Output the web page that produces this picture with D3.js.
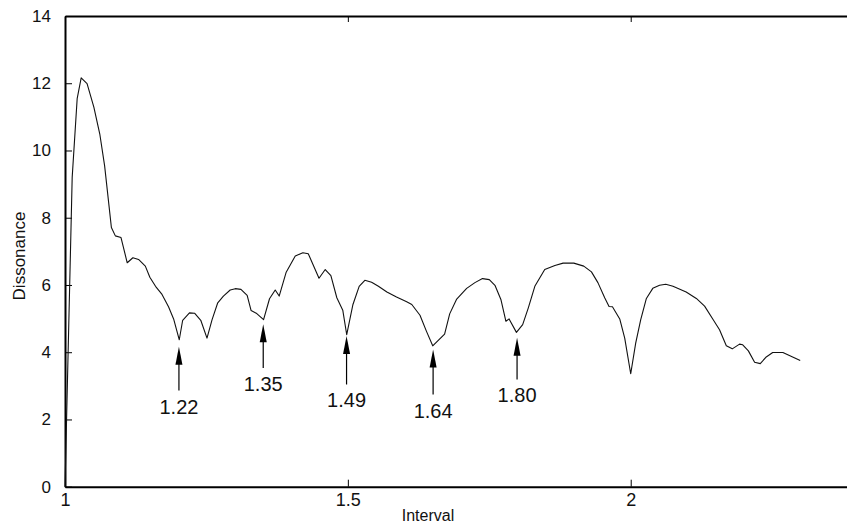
<!DOCTYPE html>
<html>
<head>
<meta charset="UTF-8">
<title>Dissonance curve</title>
<script src="https://cdn.jsdelivr.net/npm/d3@7/dist/d3.min.js"></script>
<style>
  body { margin: 0; background: #fff; }
  text { font-family: "Liberation Sans", Arial, Helvetica, sans-serif; fill: #111; }
</style>
</head>
<body>
<script>

    // Intervall-Werte (x) und Dissonanz-Werte (y) der Kurve
    let intervals = [1.000, 1.0127, 1.0215, 1.0286, 1.039, 1.051, 1.0615, 1.070, 1.082, 1.089,
        1.099, 1.110, 1.120, 1.130, 1.142, 1.150, 1.160, 1.1715, 1.183, 1.192,
        1.202, 1.208, 1.220, 1.229, 1.240, 1.251, 1.260, 1.270, 1.280, 1.292,
        1.301, 1.311, 1.322, 1.329, 1.339, 1.351, 1.3615, 1.3716, 1.3786, 1.391,
        1.407, 1.4205, 1.430, 1.449, 1.460, 1.470, 1.4805, 1.491, 1.498, 1.509,
        1.520, 1.530, 1.542, 1.554, 1.569, 1.586, 1.604, 1.613, 1.6275, 1.639,
        1.650, 1.671, 1.680, 1.692, 1.710, 1.7246, 1.738, 1.750, 1.760, 1.7705,
        1.7794, 1.785, 1.798, 1.809, 1.819, 1.8305, 1.848, 1.866, 1.8805, 1.8994,
        1.917, 1.9306, 1.942, 1.954, 1.9617, 1.9677, 1.9806, 1.9894, 2.000, 2.0088,
        2.0177, 2.0277, 2.039, 2.051, 2.062, 2.0747, 2.098, 2.116, 2.1306, 2.145,
        2.157, 2.169, 2.1795, 2.1924, 2.198, 2.208, 2.219, 2.229, 2.2396, 2.251,
        2.269, 2.2996];

    let dissonance = [0, 9.2, 11.54, 12.16, 11.99, 11.29, 10.49, 9.55, 7.71, 7.46,
        7.41, 6.66, 6.81, 6.76, 6.56, 6.23, 5.96, 5.72, 5.35, 4.99,
        4.37, 4.95, 5.17, 5.16, 4.95, 4.42, 4.97, 5.47, 5.67, 5.85,
        5.89, 5.87, 5.69, 5.24, 5.15, 4.97, 5.59, 5.85, 5.67, 6.38,
        6.86, 6.96, 6.93, 6.20, 6.46, 6.28, 5.62, 5.25, 4.52, 5.42,
        5.96, 6.14, 6.08, 5.96, 5.79, 5.64, 5.50, 5.42, 5.10, 4.62,
        4.19, 4.54, 5.14, 5.57, 5.90, 6.07, 6.19, 6.16, 5.99, 5.57,
        4.92, 4.99, 4.59, 4.82, 5.32, 5.96, 6.46, 6.58, 6.65, 6.65,
        6.56, 6.39, 6.07, 5.62, 5.36, 5.35, 4.99, 4.42, 3.36, 4.27,
        4.97, 5.60, 5.90, 5.99, 6.02, 5.96, 5.79, 5.60, 5.37, 4.99,
        4.67, 4.19, 4.10, 4.24, 4.22, 4.04, 3.70, 3.66, 3.86, 3.99,
        3.99, 3.75];

    // Pfeile auf die Minima
    let arrowX = [1.2014, 1.3504, 1.4977, 1.6507, 1.7991];
    let arrowLabels = ["1.22", "1.35", "1.49", "1.64", "1.80"];
    let arrowTip = [4.16, 4.83, 4.48, 4.08, 4.43];
    let arrowTail = [2.86, 3.53, 3.04, 2.74, 3.19];

    // Achsen-Ticks
    let xTicks = [1, 1.5, 2];
    let yTicks = [0, 2, 4, 6, 8, 10, 12, 14];

    let width = 847, height = 524;
    let margin = {top: 16, left: 65},
        w = 792, // Zeichenflaeche geht rechts ueber den Rand hinaus
        h = 470.7;

    let svg = d3.select("body").append("svg")
        .attr("width", width)
        .attr("height", height);

    let scaleX = d3.scaleLinear().domain([1, 2.4]).range([0, w]);
    let scaleY = d3.scaleLinear().domain([0, 14]).range([h, 0]);

    let g = svg.append("g")
        .attr("transform", "translate(" + margin.left + "," + margin.top + ")");

    // y-Achse links
    let yAxis = g.append("g")
        .call(d3.axisLeft(scaleY).tickValues(yTicks).tickSize(-7).tickSizeOuter(0).tickPadding(14)
            .tickFormat(d3.format("d")));
    yAxis.selectAll("text").attr("font-size", "17px");

    // x-Achse unten
    let xAxis = g.append("g")
        .attr("transform", "translate(0," + h + ")")
        .call(d3.axisBottom(scaleX).tickValues(xTicks).tickSize(-7).tickSizeOuter(0).tickPadding(7)
            .tickFormat(d3.format("")));
    xAxis.selectAll("text").attr("font-size", "18px");

    // x-Achse oben (nur Ticks)
    g.append("g")
        .call(d3.axisTop(scaleX).tickValues(xTicks).tickSize(-6).tickSizeOuter(0).tickFormat(""));

    g.selectAll(".domain").attr("stroke", "#000").attr("stroke-width", 2);
    g.selectAll(".tick line").attr("stroke", "#000").attr("stroke-width", 1);
    g.selectAll(".tick text").attr("fill", "#111");

    // Kurve
    let points = intervals.map(function (d, i) {
        return [d, dissonance[i]];
    });

    let line = d3.line()
        .x(function (d) { return scaleX(d[0]); })
        .y(function (d) { return scaleY(d[1]); });

    g.append("path")
        .datum(points)
        .attr("d", line)
        .attr("fill", "none")
        .attr("stroke", "#111")
        .attr("stroke-width", 1.1)
        .attr("stroke-linejoin", "round");

    // Pfeile
    let arrows = g.selectAll(".arrow")
        .data(arrowX)
        .enter()
        .append("g")
        .attr("class", "arrow");

    arrows.append("line")
        .attr("x1", function (d) { return scaleX(d); })
        .attr("x2", function (d) { return scaleX(d); })
        .attr("y1", function (d, i) { return scaleY(arrowTail[i]); })
        .attr("y2", function (d, i) { return scaleY(arrowTip[i]) + 12; })
        .attr("stroke", "#000")
        .attr("stroke-width", 1.2);

    arrows.append("path")
        .attr("d", function (d, i) {
            let x = scaleX(d), y = scaleY(arrowTip[i]);
            return "M" + x + "," + y + "L" + (x - 3.5) + "," + (y + 18) + "L" + (x + 3.5) + "," + (y + 18) + "Z";
        })
        .attr("fill", "#000");

    arrows.append("text")
        .attr("x", function (d) { return scaleX(d); })
        .attr("y", function (d, i) { return scaleY(arrowTail[i]) + 23; })
        .attr("text-anchor", "middle")
        .attr("font-size", "20px")
        .text(function (d, i) { return arrowLabels[i]; });

    // Achsenbeschriftungen
    svg.append("text")
        .attr("x", 428)
        .attr("y", 521)
        .attr("text-anchor", "middle")
        .attr("font-size", "16px")
        .text("Interval");

    svg.append("text")
        .attr("transform", "rotate(-90)")
        .attr("x", -256)
        .attr("y", 25)
        .attr("text-anchor", "middle")
        .attr("font-size", "17px")
        .text("Dissonance");

</script>
</body>
</html>
